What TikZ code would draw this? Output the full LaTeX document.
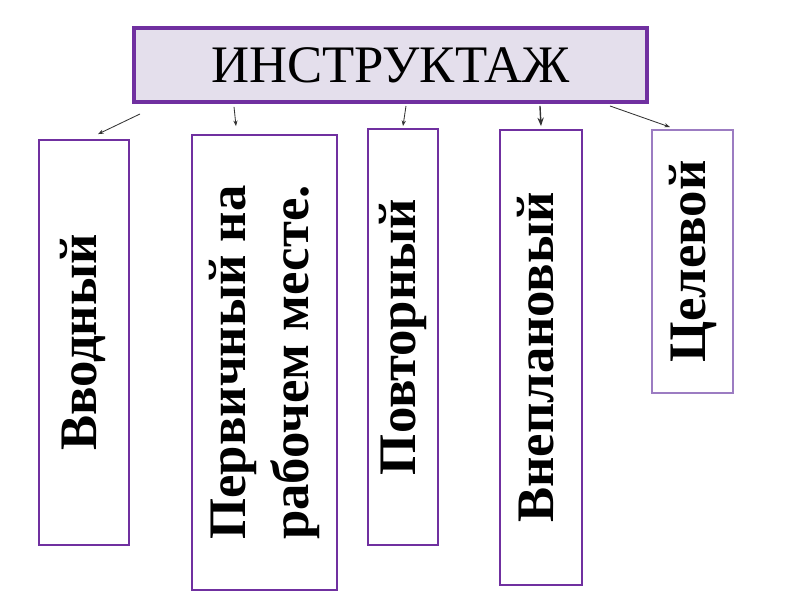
\documentclass[tikz,border=0pt]{standalone}
\usepackage{fontspec}
\setmainfont{Liberation Serif}
\usepackage{graphicx}
\usetikzlibrary{calc, arrows.meta, positioning}
\definecolor{instrpurple}{HTML}{7030A0}
\definecolor{instrlight}{HTML}{9C7CC2}
\definecolor{instrfill}{HTML}{E4DFEC}
\newcommand{\vtext}[1]{\rotatebox{90}{\begin{tabular}{@{}c@{}}#1\end{tabular}}}

\begin{document}
\begin{tikzpicture}

              \tikzset{
                headnode/.style={
                    shape=rectangle,
                    draw=instrpurple,
                    line width=2.8pt,
                    fill=instrfill,
                    minimum width=12.825cm,
                    minimum height=1.85cm,
                    inner sep=0pt,
                    font=\fontsize{37.5}{45}\selectfont
                  },
                kindnode/.style={
                    shape=rectangle,
                    draw=instrpurple,
                    line width=1.3pt,
                    fill=white,
                    inner sep=0pt,
                    font=\fontsize{37.5}{45}\selectfont\bfseries
                  },
                kindarrow/.style={
                    draw=black!80,
                    line width=0.6pt,
                    -{Stealth[length=4pt,width=3pt]}
                  }
              }
              \useasboundingbox (0,0) rectangle (20,15);

              \node[headnode] (instr) at (9.7625,13.375) {ИНСТРУКТАЖ};

              \node[kindnode, minimum width=2.25cm, minimum height=10.125cm] (vvod) at (2.1,6.4375) {\vtext{Вводный}};
              \node[kindnode, minimum width=3.625cm, minimum height=11.375cm] (perv) at (6.6125,5.9375) {\vtext{Первичный на\\рабочем месте.}};
              \node[kindnode, minimum width=1.75cm, minimum height=10.4cm] (povt) at (10.075,6.575) {\vtext{Повторный}};
              \node[kindnode, minimum width=2.05cm, minimum height=11.375cm] (vnepl) at (13.525,6.0625) {\vtext{Внеплановый}};
              \node[kindnode, draw=instrlight, minimum width=2.025cm, minimum height=6.575cm] (tsel) at (17.3125,8.4625) {\vtext{Целевой}};

              \draw[kindarrow] ($(instr.south west)+(0.2,-0.25)$) -- ($(vvod.north)+(0.35,0.125)$);
              \draw[kindarrow] ($(instr.south west)+(2.55,-0.075)$) -- ($(perv.north)+(-0.7125,0.2)$);
              \draw[kindarrow] ($(instr.south)+(0.3875,-0.05)$) -- ($(povt.north)+(0,0.05)$);
              \draw[kindarrow, line width=1pt, -{Stealth[length=6pt,width=4.5pt]}] ($(instr.south east)+(-2.725,-0.05)$) -- ($(vnepl.north)+(0,0.075)$);
              \draw[kindarrow] ($(instr.south east)+(-0.975,-0.05)$) -- ($(tsel.north)+(-0.5625,0.05)$);

            \end{tikzpicture}
\end{document}
